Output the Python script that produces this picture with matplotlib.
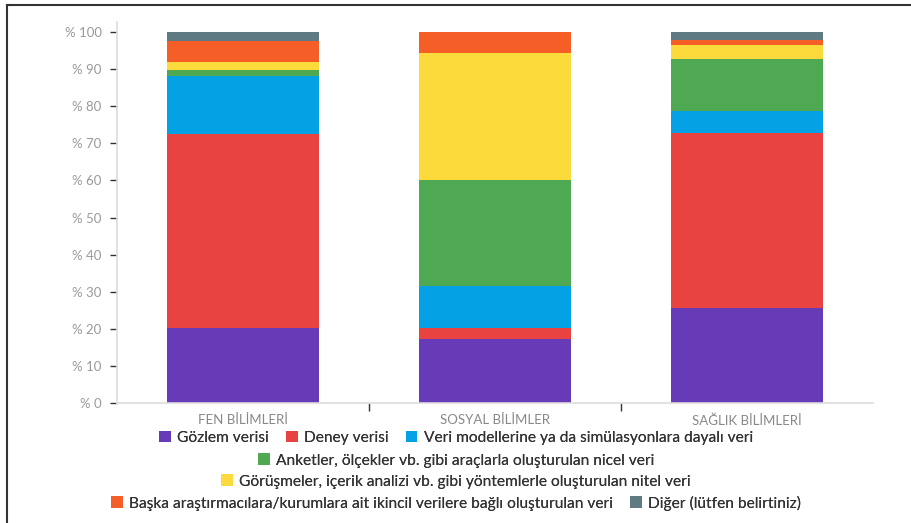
import matplotlib.pyplot as plt
from matplotlib.lines import Line2D
from matplotlib.patches import Patch

plt.rcParams["font.family"] = ["Lato", "DejaVu Sans"]

categories = ["FEN BİLİMLERİ", "SOSYAL BİLİMLER", "SAĞLIK BİLİMLERİ"]
series_names = [
    "Gözlem verisi",
    "Deney verisi",
    "Veri modellerine ya da simülasyonlara dayalı veri",
    "Anketler, ölçekler vb. gibi araçlarla oluşturulan nicel veri",
    "Görüşmeler, içerik analizi vb. gibi yöntemlerle oluşturulan nitel veri",
    "Başka araştırmacılara/kurumlara ait ikincil verilere bağlı oluşturulan veri",
    "Diğer (lütfen belirtiniz)",
]
gozlem = [20.2, 17.3, 25.6]
deney = [52.2, 2.9, 47.1]
model = [15.8, 11.3, 5.9]
nicel = [1.6, 28.7, 14.0]
nitel = [2.2, 34.2, 3.9]
ikincil = [5.6, 5.7, 1.4]
diger = [2.4, 0.0, 2.1]
y_ticks = [0, 10, 20, 30, 40, 50, 60, 70, 80, 90, 100]

series = [gozlem, deney, model, nicel, nitel, ikincil, diger]
colors = ["#673AB7", "#E84340", "#04A2E5", "#4EA952", "#FDDA3C", "#F65E27", "#607A84"]

fig = plt.figure(figsize=(9.12, 5.23), dpi=100)
ax = fig.add_axes([117 / 912, 1 - 403 / 523, (873 - 117) / 912, (403 - 22) / 523])

x = range(len(categories))
bottom = [0.0] * len(categories)
for vals, col in zip(series, colors):
    ax.bar(x, vals, width=0.6, bottom=bottom, color=col, linewidth=0)
    bottom = [b + v for b, v in zip(bottom, vals)]

ax.set_xlim(-0.5, 2.5)
ax.set_ylim(0, 102.7)
ax.set_yticks(y_ticks)
ax.set_yticklabels([f"% {t}" for t in y_ticks])
ax.set_xticks(list(x))
ax.set_xticklabels(categories)
ax.set_xticks([0.5, 1.5], minor=True)

for pos in ["top", "right"]:
    ax.spines[pos].set_visible(False)
for pos in ["left", "bottom"]:
    ax.spines[pos].set_color("#dddddd")
    ax.spines[pos].set_linewidth(1.2)

ax.tick_params(axis="y", length=5, width=1, color="#333333", labelcolor="#999999",
               labelsize=9.5, pad=6)
ax.tick_params(axis="x", which="major", length=0, labelcolor="#888888", labelsize=9.5, pad=8)
ax.tick_params(axis="x", which="minor", length=6, width=1, color="#333333")

# legend rows, each centred under the chart
rows = [[0, 1, 2], [3], [4], [5, 6]]
row_y = [438, 460.5, 481.5, 503]
for idx, yy in zip(rows, row_y):
    handles = [Patch(facecolor=colors[i], edgecolor="none") for i in idx]
    labels = [series_names[i] for i in idx]
    leg = fig.legend(handles, labels, loc="center", bbox_to_anchor=(0.5, 1 - yy / 523),
                     ncol=len(idx), frameon=False, fontsize=11.2, handlelength=0.75,
                     handleheight=0.75, handletextpad=0.4, columnspacing=1.1,
                     borderaxespad=0, borderpad=0)
    for t in leg.get_texts():
        t.set_color("#333333")
    fig.add_artist(leg)

# frame edges along top and left
fig.add_artist(Line2D([7 / 912, 1], [1 - 4.5 / 523, 1 - 4.5 / 523], color="#333333", lw=1.5))
fig.add_artist(Line2D([7 / 912, 7 / 912], [0, 1 - 4.5 / 523], color="#333333", lw=1.5))

fig.savefig("out.png", dpi=100)
